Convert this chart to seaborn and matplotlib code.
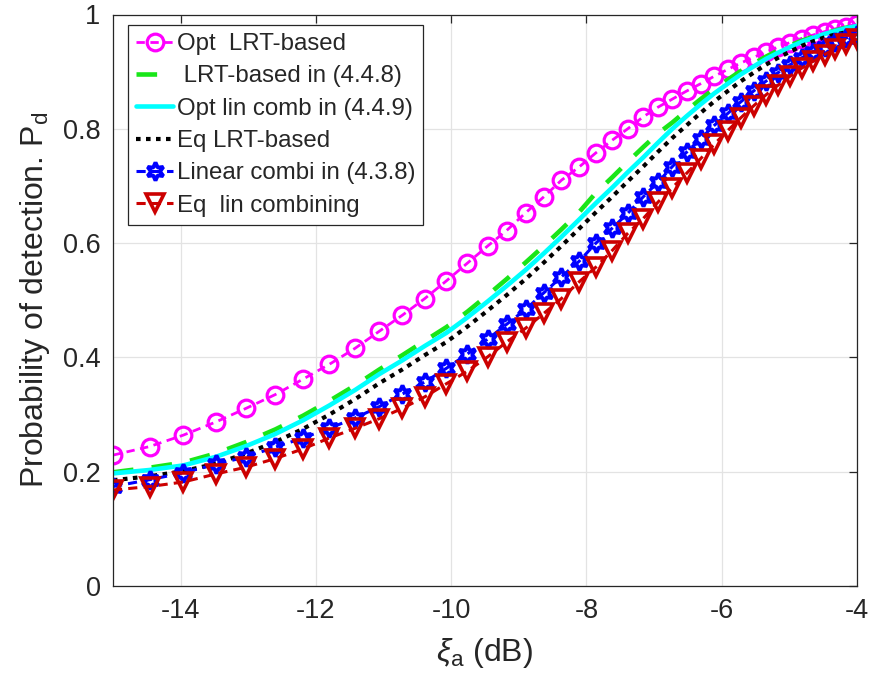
import matplotlib
matplotlib.use('Agg')
import matplotlib.pyplot as plt
import seaborn as sns

# ---------------- data ----------------
xi_db = [-15.00, -14.46, -13.96, -13.48, -13.03, -12.60, -12.19, -11.80, -11.42, -11.06,
         -10.72, -10.39, -10.07, -9.76, -9.46, -9.18, -8.90, -8.63, -8.37, -8.11,
         -7.86, -7.62, -7.39, -7.16, -6.94, -6.73, -6.52, -6.31, -6.11, -5.91,
         -5.72, -5.53, -5.35, -5.17, -4.99, -4.82, -4.65, -4.48, -4.32, -4.16, -4.00]

opt_lrt = [0.229, 0.244, 0.264, 0.287, 0.311, 0.335, 0.362, 0.388, 0.416, 0.446,
           0.474, 0.503, 0.534, 0.565, 0.595, 0.622, 0.653, 0.681, 0.710, 0.733,
           0.758, 0.780, 0.800, 0.821, 0.838, 0.852, 0.866, 0.879, 0.892, 0.904,
           0.915, 0.925, 0.934, 0.943, 0.951, 0.958, 0.964, 0.970, 0.975, 0.979, 0.983]

lrt_448 = [0.199, 0.207, 0.216, 0.232, 0.252, 0.274, 0.298, 0.324, 0.351, 0.379,
           0.404, 0.429, 0.453, 0.480, 0.509, 0.537, 0.566, 0.595, 0.624, 0.654,
           0.688, 0.715, 0.742, 0.768, 0.792, 0.811, 0.832, 0.852, 0.870, 0.886,
           0.901, 0.914, 0.926, 0.937, 0.946, 0.954, 0.961, 0.967, 0.972, 0.977, 0.981]

opt_lin_449 = [0.197, 0.203, 0.211, 0.226, 0.245, 0.266, 0.290, 0.316, 0.343, 0.371,
               0.395, 0.420, 0.443, 0.470, 0.498, 0.525, 0.553, 0.582, 0.611, 0.641,
               0.670, 0.697, 0.724, 0.750, 0.776, 0.800, 0.822, 0.843, 0.862, 0.879,
               0.895, 0.909, 0.922, 0.933, 0.943, 0.952, 0.959, 0.966, 0.971, 0.976, 0.980]

eq_lrt = [0.185, 0.192, 0.201, 0.214, 0.232, 0.252, 0.275, 0.300, 0.327, 0.355,
          0.379, 0.404, 0.427, 0.454, 0.482, 0.509, 0.537, 0.566, 0.595, 0.625,
          0.654, 0.681, 0.708, 0.734, 0.760, 0.784, 0.806, 0.828, 0.848, 0.866,
          0.883, 0.898, 0.912, 0.924, 0.935, 0.945, 0.953, 0.960, 0.965, 0.969, 0.973]

lin_438 = [0.174, 0.186, 0.198, 0.213, 0.226, 0.243, 0.259, 0.276, 0.294, 0.314,
           0.336, 0.357, 0.381, 0.406, 0.432, 0.458, 0.484, 0.513, 0.541, 0.568,
           0.600, 0.626, 0.652, 0.681, 0.707, 0.734, 0.759, 0.783, 0.806, 0.827,
           0.847, 0.866, 0.883, 0.898, 0.912, 0.924, 0.935, 0.944, 0.952, 0.959, 0.965]

eq_lin = [0.168, 0.174, 0.182, 0.196, 0.208, 0.223, 0.240, 0.259, 0.276, 0.293,
          0.311, 0.331, 0.354, 0.376, 0.401, 0.427, 0.451, 0.477, 0.503, 0.532,
          0.558, 0.587, 0.617, 0.643, 0.672, 0.697, 0.722, 0.748, 0.773, 0.797,
          0.819, 0.840, 0.859, 0.876, 0.892, 0.906, 0.918, 0.930, 0.940, 0.949, 0.957]

series_labels = ['Opt  LRT-based', ' LRT-based in (4.4.8)', 'Opt lin comb in (4.4.9)',
                 'Eq LRT-based', 'Linear combi in (4.3.8)', 'Eq  lin combining']
x_ticks = [-14, -12, -10, -8, -6, -4]
x_tick_labels = ['-14', '-12', '-10', '-8', '-6', '-4']
y_ticks = [0, 0.2, 0.4, 0.6, 0.8, 1]
y_tick_labels = ['0', '0.2', '0.4', '0.6', '0.8', '1']
x_label = r'$\xi_{\mathrm{a}}$ (dB)'
y_label = r'Probability of detection. P$_{\mathrm{d}}$'

# ---------------- style ----------------
sns.set_theme(style='white')
plt.rcParams['font.family'] = ['Liberation Sans', 'DejaVu Sans']
plt.rcParams['axes.unicode_minus'] = False
plt.rcParams['mathtext.fontset'] = 'custom'
plt.rcParams['mathtext.rm'] = 'Liberation Sans'
plt.rcParams['mathtext.it'] = 'Liberation Sans:italic'
plt.rcParams['mathtext.sf'] = 'Liberation Sans'

W, H = 873, 688
fig = plt.figure(figsize=(W / 100, H / 100), dpi=100)
ax = fig.add_axes([113 / W, 1 - 586 / H, 744 / W, 571.5 / H])

MAG = '#FF00FF'
GRN = '#19E619'
CYN = '#00FFFF'
BLU = '#0000FF'
RED = '#CC0000'

sns.lineplot(x=xi_db, y=opt_lrt, ax=ax, color=MAG, linewidth=2.0,
             linestyle=(0, (3, 2)), marker='o', markersize=12,
             markerfacecolor='none', markeredgecolor=MAG, markeredgewidth=2.3,
             label=series_labels[0])
sns.lineplot(x=xi_db, y=lrt_448, ax=ax, color=GRN, linewidth=3.3,
             linestyle=(0, (4.5, 4)), label=series_labels[1])
sns.lineplot(x=xi_db, y=opt_lin_449, ax=ax, color=CYN, linewidth=3.3,
             linestyle='-', label=series_labels[2])
sns.lineplot(x=xi_db, y=eq_lrt, ax=ax, color='black', linewidth=3.0,
             linestyle=(0, (1.1, 1.3)), label=series_labels[3])
sns.lineplot(x=xi_db, y=lin_438, ax=ax, color=BLU, linewidth=2.2,
             linestyle=(0, (3, 2)), marker=(6, 1, 0), markersize=13,
             markerfacecolor='none', markeredgecolor=BLU, markeredgewidth=2.8,
             label=series_labels[4])
sns.lineplot(x=xi_db, y=eq_lin, ax=ax, color=RED, linewidth=2.2,
             linestyle=(0, (3, 2)), marker='v', markersize=13,
             markerfacecolor='none', markeredgecolor=RED, markeredgewidth=2.6,
             label=series_labels[5])

ax.set_xlim(-15, -4)
ax.set_ylim(0, 1)
ax.set_xticks(x_ticks)
ax.set_xticklabels(x_tick_labels)
ax.set_yticks(y_ticks)
ax.set_yticklabels(y_tick_labels)
ax.grid(True, color='#E3E3E3', linewidth=0.9)
ax.set_axisbelow(True)

ax.tick_params(axis='both', direction='in', length=6, width=0.9, top=True, right=True,
               labelsize=19.5, colors='#262626', pad=9)
for s in ax.spines.values():
    s.set_color('#262626')
    s.set_linewidth(0.9)

ax.set_xlabel(x_label, fontsize=23, color='#262626', labelpad=8)
ax.set_ylabel(y_label, fontsize=23, color='#262626', labelpad=8)

leg = ax.legend(loc='upper left', bbox_to_anchor=(0.0202, 0.9816), borderaxespad=0,
                fontsize=17.3, frameon=True, fancybox=False, edgecolor='#262626',
                framealpha=1, handlelength=1.55, handletextpad=0.15, borderpad=0.33,
                labelspacing=0.43)
leg.get_frame().set_linewidth(0.9)

fig.savefig('out.png', dpi=100)
